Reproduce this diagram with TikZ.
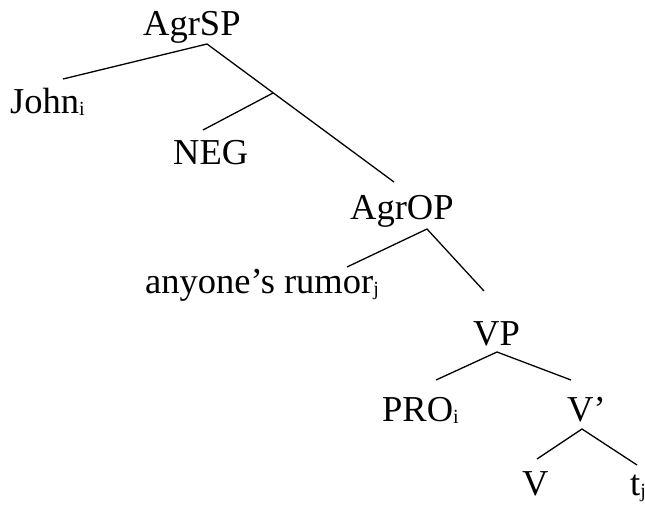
\documentclass[tikz,border=0pt]{standalone}
\usepackage{fontspec}
\setmainfont{Liberation Serif}
\newcommand\lsub[1]{\raisebox{-0.06em}{\fontsize{20}{20}\selectfont #1}}
\begin{document}
\begin{tikzpicture}[x=1pt,y=-1pt,
  lab/.style={inner sep=0pt,anchor=base west,font=\fontsize{36.5}{40}\selectfont},
  branch/.style={line width=1.3pt}]
\useasboundingbox (0,0) rectangle (645,504);
% labels
\node[lab] (agrsp) at (143,35) {AgrSP};
\node[lab] (john) at (10,113) {John\lsub{i}};
\node[lab] (neg) at (173,164) {NEG};
\node[lab] (agrop) at (350,219) {AgrOP};
\node[lab] (rumor) at (145,293) {anyone’s rumor\lsub{j}};
\node[lab] (vp) at (473,345) {VP};
\node[lab] (pro) at (382,421) {PRO\lsub{i}};
\node[lab] (vbar) at (567,421) {V’};
\node[lab] (v) at (522,495) {V};
\node[lab] (t) at (630,495) {t\lsub{j}};
% branch points
\coordinate (a1) at (207,44);
\coordinate (a1l) at (63,79);
\coordinate (a1r) at (394,182);
\coordinate (a1m) at (273,93);
\coordinate (negt) at (203,130);
\coordinate (a2) at (427,229);
\coordinate (a2l) at (347,267);
\coordinate (a2r) at (484,291);
\coordinate (a3) at (497,352);
\coordinate (a3l) at (436,380);
\coordinate (a3r) at (571,380);
\coordinate (a4) at (582,429);
\coordinate (a4l) at (537,459);
\coordinate (a4r) at (637,465);
% branches
\draw[branch] (a1l) -- (a1) -- (a1r);
\draw[branch] (a1m) -- (negt);
\draw[branch] (a2l) -- (a2) -- (a2r);
\draw[branch] (a3l) -- (a3) -- (a3r);
\draw[branch] (a4l) -- (a4) -- (a4r);
\end{tikzpicture}
\end{document}
